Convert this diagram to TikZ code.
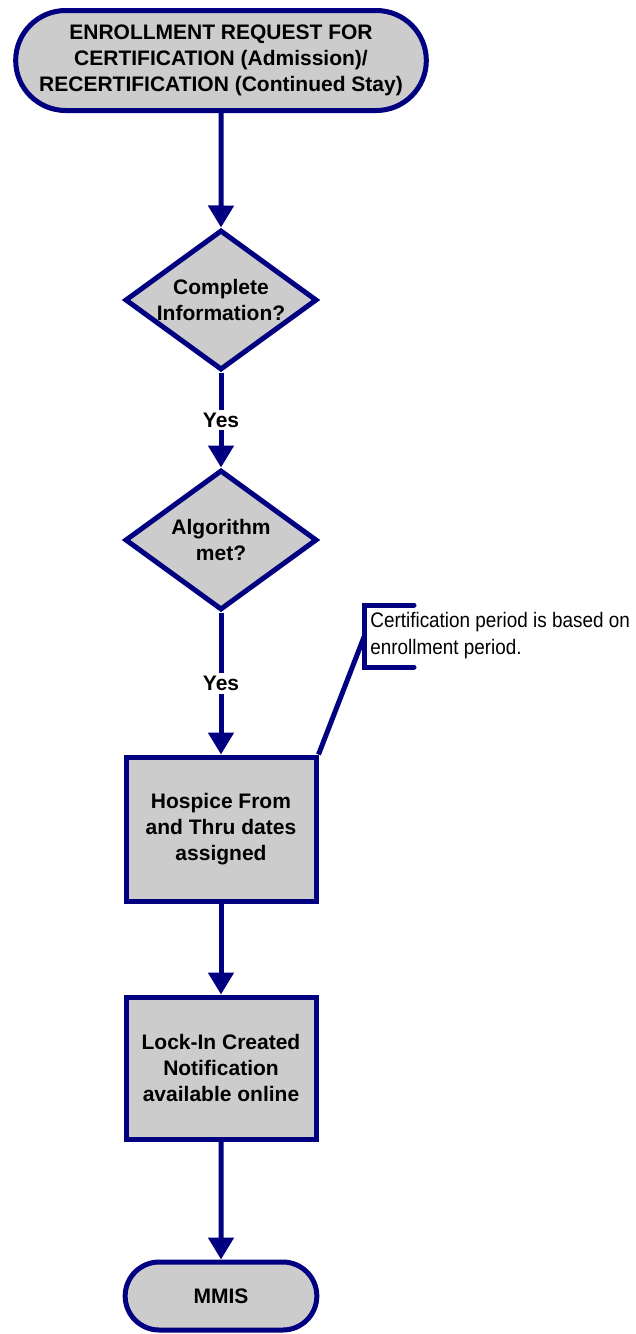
\documentclass[tikz,border=0pt]{standalone}
\usepackage{fontspec}
\setmainfont{Liberation Sans}
\newfontfamily\narrowfont{Liberation Sans}[FakeStretch=0.9]
\usetikzlibrary{shapes.geometric,shapes.misc,arrows.meta}
\definecolor{flowblue}{RGB}{0,0,128}
\definecolor{flowgray}{RGB}{204,204,204}

\begin{document}
\begin{tikzpicture}[x=1pt,y=-1pt,
    every node/.style={font=\bfseries\fontsize{10.5}{13}\selectfont},
    terminal/.style={rounded rectangle, draw=flowblue, fill=flowgray, line width=2.5pt, align=center},
    decision/.style={diamond, aspect=1.37, draw=flowblue, fill=flowgray, line width=2.5pt, align=center, inner sep=0pt, minimum width=96pt, minimum height=70pt},
    process/.style={rectangle, draw=flowblue, fill=flowgray, line width=2.5pt, align=center, minimum width=95pt, minimum height=72pt},
    flow/.style={draw=flowblue, line width=2.5pt, -{Triangle[width=12.5pt,length=11pt]}},
    answer/.style={fill=white, inner sep=1.5pt},
    note/.style={font=\narrowfont\fontsize{10.5}{13.5}\selectfont, align=left, inner sep=0pt}]
  \useasboundingbox (0,0) rectangle (318,667);

  \node[terminal, minimum width=212pt, minimum height=50pt] (request) at (110.5,30.25)
    {ENROLLMENT REQUEST FOR\\CERTIFICATION (Admission)/\\RECERTIFICATION (Continued Stay)};
  \node[decision] (complete) at (110.5,150) {Complete\\Information?};
  \node[decision] (algorithm) at (110.5,270) {Algorithm\\met?};
  \node[process] (dates) at (110.5,414.5) {Hospice From\\and Thru dates\\assigned};
  \node[process, minimum height=71pt] (lockin) at (110.5,534) {Lock-In Created\\Notification\\available online};
  \node[terminal, minimum width=102.5pt, minimum height=34pt] (mmis) at (110.5,648) {MMIS};

  \draw[flow] (request) -- (complete);
  \draw[flow] (complete) -- node[answer] {Yes} (algorithm);
  \draw[flow] (algorithm) -- node[answer] {Yes} (dates);
  \draw[flow] (dates) -- (lockin);
  \draw[flow] (lockin) -- (mmis);

  % callout
  \node[note, anchor=west] (period) at (185,318) {Certification period is based on\\enrollment period.};
  \coordinate (bracket) at (182,318.5);
  \coordinate (topend) at (207,302.5);
  \coordinate (botend) at (207,333.5);
  \draw[flowblue, line width=2.5pt] (dates.north east) -- (bracket);
  \draw[flowblue, line width=2.5pt, line cap=round] (topend) -- (bracket |- topend) -- (bracket |- botend) -- (botend);
\end{tikzpicture}
\end{document}
